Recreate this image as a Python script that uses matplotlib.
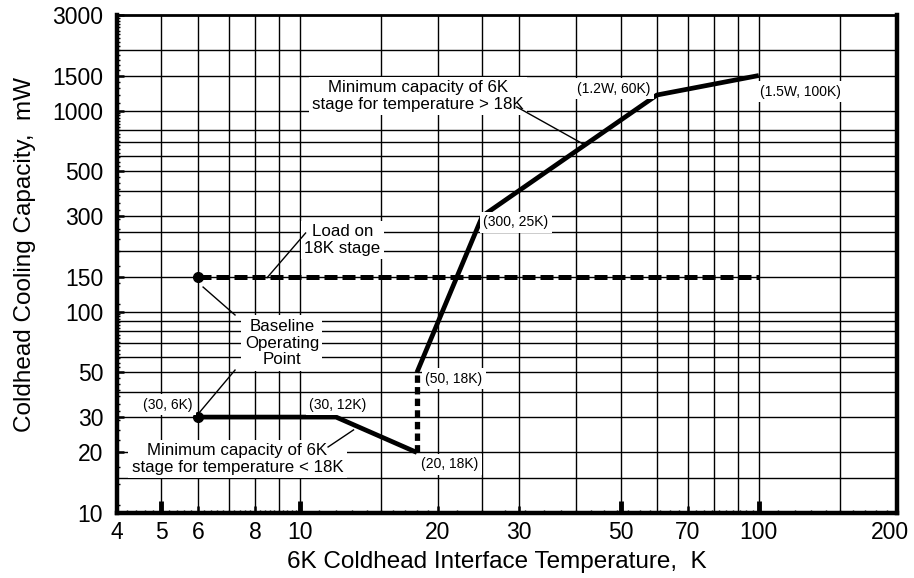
import numpy as np
import matplotlib
matplotlib.use("Agg")
import matplotlib.pyplot as plt
import matplotlib.transforms as mtransforms
from matplotlib.ticker import NullFormatter

plt.rcParams["font.family"] = ["Liberation Sans", "DejaVu Sans"]

# 6K stage minimum capacity, below 18K (temperature K, capacity mW)
t_low = [6, 12, 18]
q_low = [30, 30, 20]
# jump at 18K
t_jump = [18, 18]
q_jump = [20, 50]
# 6K stage minimum capacity, above 18K
t_high = [18, 25, 60, 100]
q_high = [50, 300, 1200, 1500]
# load on 18K stage
t_load = [6, 100]
q_load = [150, 150]
# baseline operating points
t_base = [6, 6]
q_base = [150, 30]

x_ticks = [4, 5, 6, 8, 10, 20, 30, 50, 70, 100, 200]
y_ticks = [10, 20, 30, 50, 100, 150, 300, 500, 1000, 1500, 3000]
x_grid = [5, 6, 7, 8, 9, 10, 15, 20, 25, 30, 40, 50, 60, 70, 80, 90, 100, 150]
y_grid = [15, 20, 30, 40, 50, 60, 70, 80, 90, 100, 150, 200, 250, 300,
          400, 500, 600, 700, 800, 1000, 1500, 2000]

fig = plt.figure(figsize=(9.14, 5.78), dpi=100)
ax = fig.add_axes([117/914, 65/578, 780/914, 498/578])
ax.set_xscale("log")
ax.set_yscale("log")
ax.set_xlim(4, 200)
ax.set_ylim(10, 3000)

# grid
for v in x_grid:
  ax.axvline(v, color="k", lw=1.0, zorder=1)
for v in y_grid:
  ax.axhline(v, color="k", lw=1.0, zorder=1)

# ticks
ax.set_xticks(x_ticks, labels=[str(v) for v in x_ticks])
ax.set_yticks(y_ticks, labels=[str(v) for v in y_ticks])
x_minor = list(np.arange(4.2, 10, 0.2)) + list(np.arange(11, 20, 1)) + \
    list(np.arange(22, 100, 3)) + list(np.arange(110, 200, 10))
y_minor = list(np.arange(11, 100, 3)) + list(np.arange(110, 1000, 30)) + \
    list(np.arange(1100, 3000, 100))
ax.set_xticks(x_minor, minor=True)
ax.set_yticks(y_minor, minor=True)
ax.xaxis.set_minor_formatter(NullFormatter())
ax.yaxis.set_minor_formatter(NullFormatter())
ax.tick_params(which="major", direction="in", length=5, width=1.8,
    labelsize=16.5, top=False, right=False)
ax.tick_params(axis="x", which="major", pad=6)
ax.tick_params(axis="y", which="major", pad=10)
ax.tick_params(which="minor", direction="in", length=2.5, width=1.0,
    top=False, right=False)
for tk, v in zip(ax.xaxis.get_major_ticks(), x_ticks):
  if v in (5, 10, 50, 100):
    tk.tick1line.set_markersize(9)
    tk.tick1line.set_markeredgewidth(3.5)

# keep the last label inside the canvas
last = ax.get_xticklabels()[-1]
last.set_transform(last.get_transform() +
    mtransforms.ScaledTranslation(-7/100, 0, fig.dpi_scale_trans))

for side, w in (("left", 3.2), ("bottom", 3.2), ("right", 3.2), ("top", 2.0)):
  ax.spines[side].set_linewidth(w)
  ax.spines[side].set_zorder(6)

# data
ax.plot(t_low, q_low, color="k", lw=3.4, solid_capstyle="butt", zorder=4)
ax.plot(t_high, q_high, color="k", lw=3.4, solid_capstyle="butt", zorder=4)
ax.plot(t_jump, q_jump, color="k", lw=3.8, linestyle=(0, (1.4, 0.8)), zorder=4)
ax.plot(t_load, q_load, color="k", lw=3.6, linestyle=(0, (2.6, 1.0)), zorder=4)
ax.plot(t_base, q_base, "o", color="k", ms=7, zorder=5, ls="none")

box = dict(facecolor="white", edgecolor="none", pad=2.5)
small = dict(fontsize=10, color="k", zorder=5, bbox=box)
big = dict(fontsize=12.2, color="k", zorder=5, bbox=box, linespacing=1.15)

ax.text(5.85, 34.5, "(30, 6K)", ha="right", va="center", **small)
ax.text(12.1, 34.5, "(30, 12K)", ha="center", va="center", **small)
ax.text(18.4, 17.5, "(20, 18K)", ha="left", va="center", **small)
ax.text(18.75, 46.5, "(50, 18K)", ha="left", va="center", **small)
ax.text(25.1, 280, "(300, 25K)", ha="left", va="center", **small)
ax.text(48.4, 1290, "(1.2W, 60K)", ha="center", va="center", **small)
ax.text(100.7, 1245, "(1.5W, 100K)", ha="left", va="center", **small)

ax.text(18.1, 1185, "Minimum capacity of 6K\nstage for temperature > 18K",
    ha="center", va="center", **big)
ax.text(12.4, 228, "Load on\n18K stage", ha="center", va="center", **big)
ax.text(9.15, 70, "Baseline\nOperating\nPoint", ha="center", va="center", **big)
ax.text(7.32, 18.6, "Minimum capacity of 6K\nstage for temperature < 18K",
    ha="center", va="center", **big)

# leader lines
lead = dict(color="k", lw=1.0, zorder=5)
ax.plot([29.7, 41.8], [1047, 677], **lead)
ax.plot([10.3, 8.49], [247, 148], **lead)
ax.plot([6.16, 7.23], [133, 96.6], **lead)
ax.plot([7.23, 6.06], [51.4, 31.8], **lead)
ax.plot([11.53, 13.1], [21.3, 25.9], **lead)

fig.text(497/914, 1 - 562/578, "6K Coldhead Interface Temperature,  K",
    ha="center", va="center", fontsize=17.5)
fig.text(25/914, 1 - 255/578, "Coldhead Cooling Capacity,  mW",
    ha="center", va="center", rotation=90, fontsize=17.5)

fig.savefig("out.png", dpi=100)
